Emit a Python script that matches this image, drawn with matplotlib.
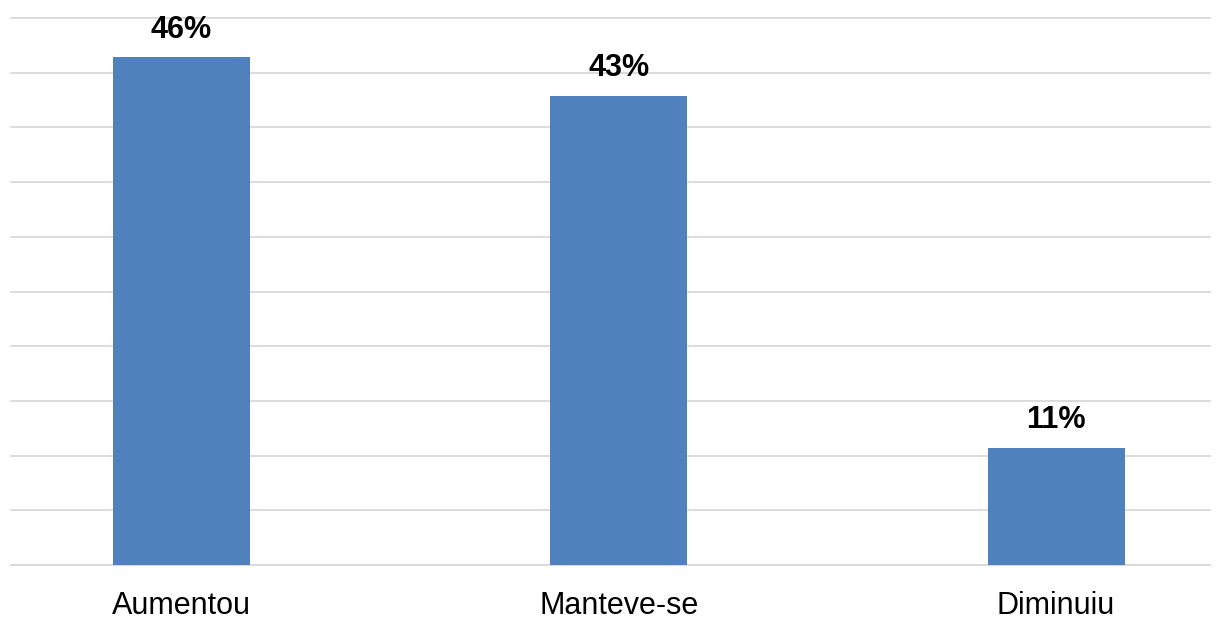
import matplotlib
matplotlib.use("Agg")
import matplotlib.pyplot as plt

categories = ["Aumentou", "Manteve-se", "Diminuiu"]
values = [46.4, 42.9, 10.7]
labels = ["46%", "43%", "11%"]

plt.rcParams['font.family'] = ['Liberation Sans', 'DejaVu Sans']

fig = plt.figure(figsize=(12.2, 6.21), dpi=100)
ax = fig.add_axes([11/1220, 1 - 565/621, (1210 - 11)/1220, (565 - 18)/621])

x = list(range(len(categories)))
bars = ax.bar(x, values, width=0.313, color="#4F81BD", zorder=3)

ax.set_xlim(-0.39, 2.352)
ax.set_ylim(0, 50)
ax.set_yticks(range(0, 51, 5))
ax.yaxis.grid(True, color="#D9D9D9", linewidth=1.3, zorder=0)
for ln in ax.get_ygridlines():
    ln.set_clip_on(False)
ax.tick_params(axis='y', left=False, labelleft=False)
ax.tick_params(axis='x', bottom=False, pad=15, labelsize=22, labelcolor="#000000")
ax.set_xticks(x)
ax.set_xticklabels(categories)
for s in ["top", "right", "left"]:
    ax.spines[s].set_visible(False)
ax.spines["bottom"].set_color("#D9D9D9")
ax.spines["bottom"].set_linewidth(1.3)

for xi, v, lab in zip(x, values, labels):
    ax.annotate(lab, (xi, v), xytext=(0, 9), textcoords="offset points",
                ha="center", va="bottom", fontsize=22, fontweight="bold", color="#000000")

fig.savefig("out.png", dpi=100)
